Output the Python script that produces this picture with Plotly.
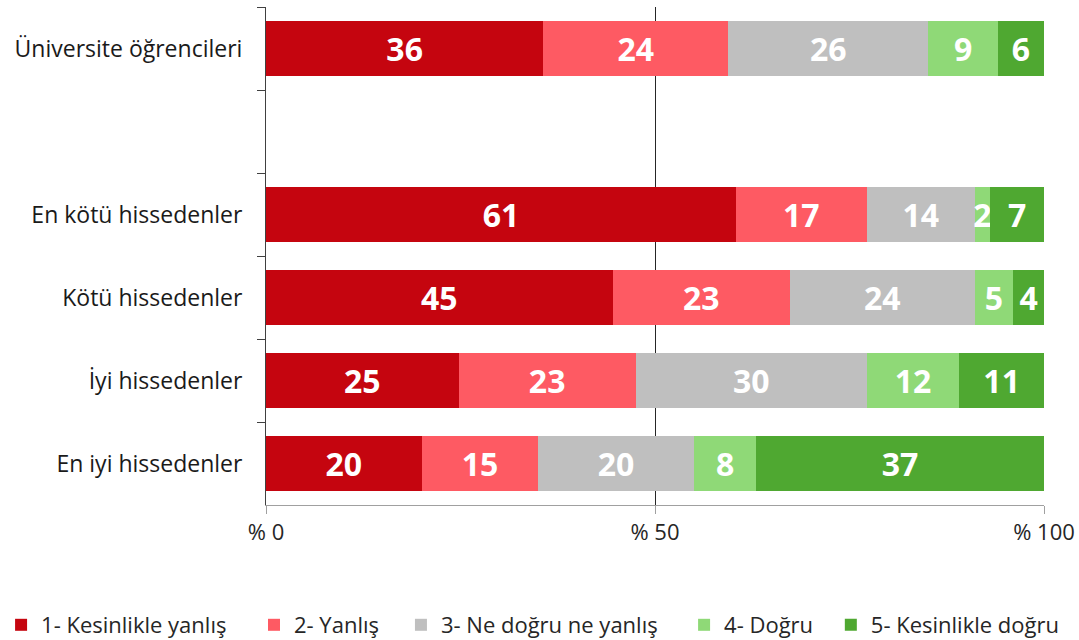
import plotly.graph_objects as go

# Groups from top to bottom; the blank entry leaves an empty row
groups = ["Üniversite öğrencileri", " ", "En kötü hissedenler", "Kötü hissedenler",
          "İyi hissedenler", "En iyi hissedenler"]

series_names = ["1- Kesinlikle yanlış", "2- Yanlış", "3- Ne doğru ne yanlış",
                "4- Doğru", "5- Kesinlikle doğru"]

kesinlikle_yanlis = [36, None, 61, 45, 25, 20]
yanlis = [24, None, 17, 23, 23, 15]
ne_dogru_ne_yanlis = [26, None, 14, 24, 30, 20]
dogru = [9, None, 2, 5, 12, 8]
kesinlikle_dogru = [6, None, 7, 4, 11, 37]

x_tick_values = [0, 50, 100]
x_tick_labels = ["% 0", "% 50", "% 100"]

colors = ["#C5050F", "#FE5A63", "#BFBFBF", "#8FD977", "#4FA831"]
series = [kesinlikle_yanlis, yanlis, ne_dogru_ne_yanlis, dogru, kesinlikle_dogru]

# Left edge (fraction of page width) of each legend entry along the bottom row
legend_x = [0.001, 0.2354, 0.3716, 0.634, 0.770]

FONT = "Open Sans"
W, H = 1079, 640
M = dict(l=266, r=35, t=7, b=135)

fig = go.Figure()
legend_layouts = {}
for i, (name, vals, col) in enumerate(zip(series_names, series, colors)):
    lg = "legend" if i == 0 else f"legend{i + 1}"
    fig.add_trace(go.Bar(
        y=groups,
        x=vals,
        name=name,
        orientation="h",
        legend=lg,
        showlegend=True,
        marker=dict(color=col, line=dict(width=0)),
        text=[("" if v is None else str(v)) for v in vals],
        textposition="inside",
        insidetextanchor="middle",
        textangle=0,
        textfont=dict(family=FONT, size=32, color="white", weight="bold"),
        cliponaxis=False,
    ))
    legend_layouts[lg] = dict(
        orientation="h",
        xref="container", yref="container",
        x=legend_x[i], xanchor="left",
        y=1 - 625 / H, yanchor="middle",
        font=dict(family=FONT, size=22, color="#262626"),
        bgcolor="rgba(0,0,0,0)",
        itemwidth=30,
        visible=True,
    )

fig.update_layout(
    showlegend=True,
    barmode="stack",
    barnorm="percent",
    bargap=0.34,
    width=W,
    height=H,
    margin=M,
    paper_bgcolor="white",
    plot_bgcolor="white",
    font=dict(family=FONT, size=22, color="#1a1a1a"),
    uniformtext=dict(minsize=32, mode="show"),
    xaxis=dict(
        range=[0, 100],
        tickvals=x_tick_values,
        ticktext=x_tick_labels,
        showgrid=True,
        gridcolor="#262626",
        gridwidth=1,
        zeroline=False,
        showline=True,
        linecolor="#A0A0A0",
        linewidth=1,
        ticks="outside",
        ticklen=8,
        tickcolor="#A0A0A0",
        tickfont=dict(family=FONT, size=22, color="#262626"),
        fixedrange=True,
        automargin=False,
    ),
    yaxis=dict(
        categoryorder="array",
        categoryarray=groups,
        autorange="reversed",
        showline=True,
        linecolor="#404040",
        linewidth=1,
        ticks="outside",
        tickson="boundaries",
        ticklen=8,
        tickcolor="#404040",
        showgrid=False,
        tickfont=dict(family=FONT, size=23, color="#1a1a1a"),
        ticklabelstandoff=18,
        automargin=False,
    ),
    **legend_layouts,
)

fig.write_html("out.html")
